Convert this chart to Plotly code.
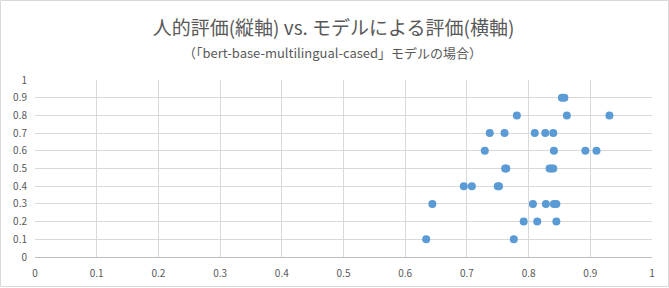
import plotly.graph_objects as go

model_score = [0.854, 0.858,
               0.781, 0.862, 0.931,
               0.737, 0.761, 0.810, 0.827, 0.840,
               0.729, 0.841, 0.892, 0.910,
               0.762, 0.764, 0.834, 0.837, 0.840,
               0.695, 0.708, 0.750, 0.752,
               0.644, 0.807, 0.828, 0.841, 0.845,
               0.792, 0.814, 0.845,
               0.634, 0.776]
human_score = [0.9, 0.9,
               0.8, 0.8, 0.8,
               0.7, 0.7, 0.7, 0.7, 0.7,
               0.6, 0.6, 0.6, 0.6,
               0.5, 0.5, 0.5, 0.5, 0.5,
               0.4, 0.4, 0.4, 0.4,
               0.3, 0.3, 0.3, 0.3, 0.3,
               0.2, 0.2, 0.2,
               0.1, 0.1]

x_ticks = [0, 0.1, 0.2, 0.3, 0.4, 0.5, 0.6, 0.7, 0.8, 0.9, 1]
y_ticks = [0, 0.1, 0.2, 0.3, 0.4, 0.5, 0.6, 0.7, 0.8, 0.9, 1]

title_text = "人的評価(縦軸) vs. モデルによる評価(横軸)"
subtitle_text = "（「bert-base-multilingual-cased」モデルの場合）"

FONT = "Noto Sans CJK JP"
W, H = 669, 288
ml, mr, mt, mb = 35, 17, 80, 31
pw, ph = W - ml - mr, H - mt - mb

fig = go.Figure(go.Scatter(
    x=model_score, y=human_score, mode="markers",
    marker=dict(color="#5B9BD5", size=8, line=dict(width=0)),
))

fig.update_layout(
    width=W, height=H,
    margin=dict(l=ml, r=mr, t=mt, b=mb, autoexpand=False),
    paper_bgcolor="white", plot_bgcolor="white",
    showlegend=False,
    font=dict(family=FONT, color="#595959", size=10),
    title=dict(text=title_text, x=333.5 / W, xanchor="center", xref="container",
               y=1 - 28 / H, yanchor="middle", yref="container",
               font=dict(family=FONT, size=19, color="#595959")),
    xaxis=dict(range=[0, 1], tickvals=x_ticks, ticktext=[f"{v:g}" for v in x_ticks],
               showgrid=True, gridcolor="#D9D9D9", gridwidth=1, zeroline=False,
               showline=True, linecolor="#BFBFBF", linewidth=1, automargin=False,
               ticks="", ticklen=0, fixedrange=True, ticklabelstandoff=7,
               tickfont=dict(size=10, color="#595959")),
    yaxis=dict(range=[0, 1], tickvals=y_ticks, ticktext=[f"{v:g}" for v in y_ticks],
               showgrid=True, gridcolor="#D9D9D9", gridwidth=1, zeroline=False,
               showline=False, ticks="", fixedrange=True, ticklabelstandoff=7,
               automargin=False, tickfont=dict(size=10, color="#595959")),
    annotations=[dict(text=subtitle_text, xref="paper", yref="paper",
                      x=(332 - ml) / pw, y=(H - mb - 52.5) / ph, xanchor="center", yanchor="middle",
                      showarrow=False, font=dict(family=FONT, size=13, color="#595959"))],
    shapes=[dict(type="rect", xref="paper", yref="paper",
                 x0=(0.5 - ml) / pw, x1=(W - 0.5 - ml) / pw,
                 y0=((H - mb) - (H - 1.5)) / ph, y1=((H - mb) - 0.5) / ph,
                 line=dict(color="#D9D9D9", width=1), fillcolor="rgba(0,0,0,0)", layer="below")],
)

fig.write_html("out.html")
